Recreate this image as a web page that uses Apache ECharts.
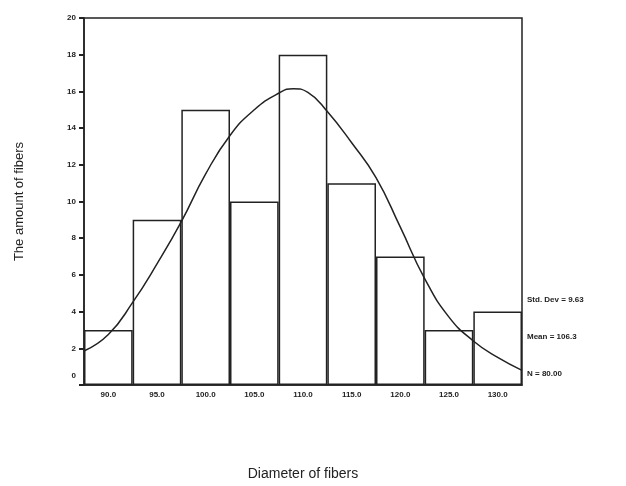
<!DOCTYPE html>
<html>
<head>
<meta charset="utf-8">
<script src="https://cdn.jsdelivr.net/npm/echarts@6/dist/echarts.min.js"></script>
<style>html,body{margin:0;padding:0;background:#fff;}#c{width:626px;height:486px;}</style>
</head>
<body>
<div id="c"></div>
<script>
var categories = ['90.0','95.0','100.0','105.0','110.0','115.0','120.0','125.0','130.0'];
var counts = [3, 9, 15, 10, 18, 11, 7, 3, 4];
var yTicks = [0, 2, 4, 6, 8, 10, 12, 14, 16, 18, 20];
var curveX = [87.5, 90.0, 92.5, 95.0, 97.5, 100.0, 102.5, 105.0, 107.5, 109.0, 110.5, 112.5, 115.0, 117.5, 120.0, 122.5, 125.0, 127.5, 130.0, 132.5];
var curveY = [1.85, 2.75, 4.5, 6.6, 8.9, 11.5, 13.6, 15.0, 15.9, 16.15, 15.95, 14.9, 13.2, 11.3, 8.6, 5.8, 3.7, 2.4, 1.5, 0.8];
var stats = ['Std. Dev = 9.63', 'Mean = 106.3', 'N = 80.00'];
var xTitle = 'Diameter of fibers';
var yTitle = 'The amount of fibers';

var ink = '#222';
var chart = echarts.init(document.getElementById('c'), null, {renderer: 'canvas'});
var curveData = curveX.map(function (x, i) { return [x, curveY[i]]; });
chart.setOption({
  backgroundColor: '#fff',
  animation: false,
  grid: {left: 84, right: 104, top: 18, bottom: 95, show: true, borderColor: ink, borderWidth: 1.5, backgroundColor: 'transparent'},
  xAxis: [{
    type: 'category', data: categories, boundaryGap: true,
    axisLine: {lineStyle: {color: ink, width: 1.5}},
    axisTick: {alignWithLabel: true, length: 3, lineStyle: {color: ink, width: 2}},
    axisLabel: {color: ink, fontSize: 8, fontWeight: 'bold', fontFamily: 'Liberation Sans', margin: 6},
    name: xTitle, nameLocation: 'middle', nameGap: 82,
    nameTextStyle: {color: ink, fontSize: 14, fontFamily: 'Liberation Sans'}
  }, {
    type: 'value', min: 87.5, max: 132.5, show: false
  }],
  yAxis: {
    type: 'value', min: 0, max: 20, interval: 2,
    splitLine: {show: false},
    axisLine: {show: true, lineStyle: {color: ink, width: 1.5}},
    axisTick: {show: true, length: 5, lineStyle: {color: ink, width: 2}},
    axisLabel: {
      color: ink, fontSize: 8, fontWeight: 'bold', fontFamily: 'Liberation Sans', margin: 8,
      formatter: function (v) { return v === 0 ? '{z|0}' : String(v); },
      rich: {z: {padding: [0, 0, 18, 0], fontSize: 8, fontWeight: 'bold', color: ink}}
    },
    name: yTitle, nameLocation: 'middle', nameGap: 58, nameRotate: 90,
    nameTextStyle: {color: ink, fontSize: 13, fontFamily: 'Liberation Sans'}
  },
  series: [{
    type: 'bar', data: counts, xAxisIndex: 0, barCategoryGap: '0%',
    itemStyle: {color: '#fff', borderColor: ink, borderWidth: 1.5}
  }, {
    type: 'line', data: curveData, xAxisIndex: 1, smooth: true, symbol: 'none',
    lineStyle: {color: ink, width: 1.5}, z: 5
  }],
  graphic: stats.map(function (s, i) {
    return {type: 'text', left: 527, top: 296 + i * 37,
      style: {text: s, fill: ink, fontSize: 8, fontWeight: 'bold', fontFamily: 'Liberation Sans'}};
  })
});
</script>
</body>
</html>
